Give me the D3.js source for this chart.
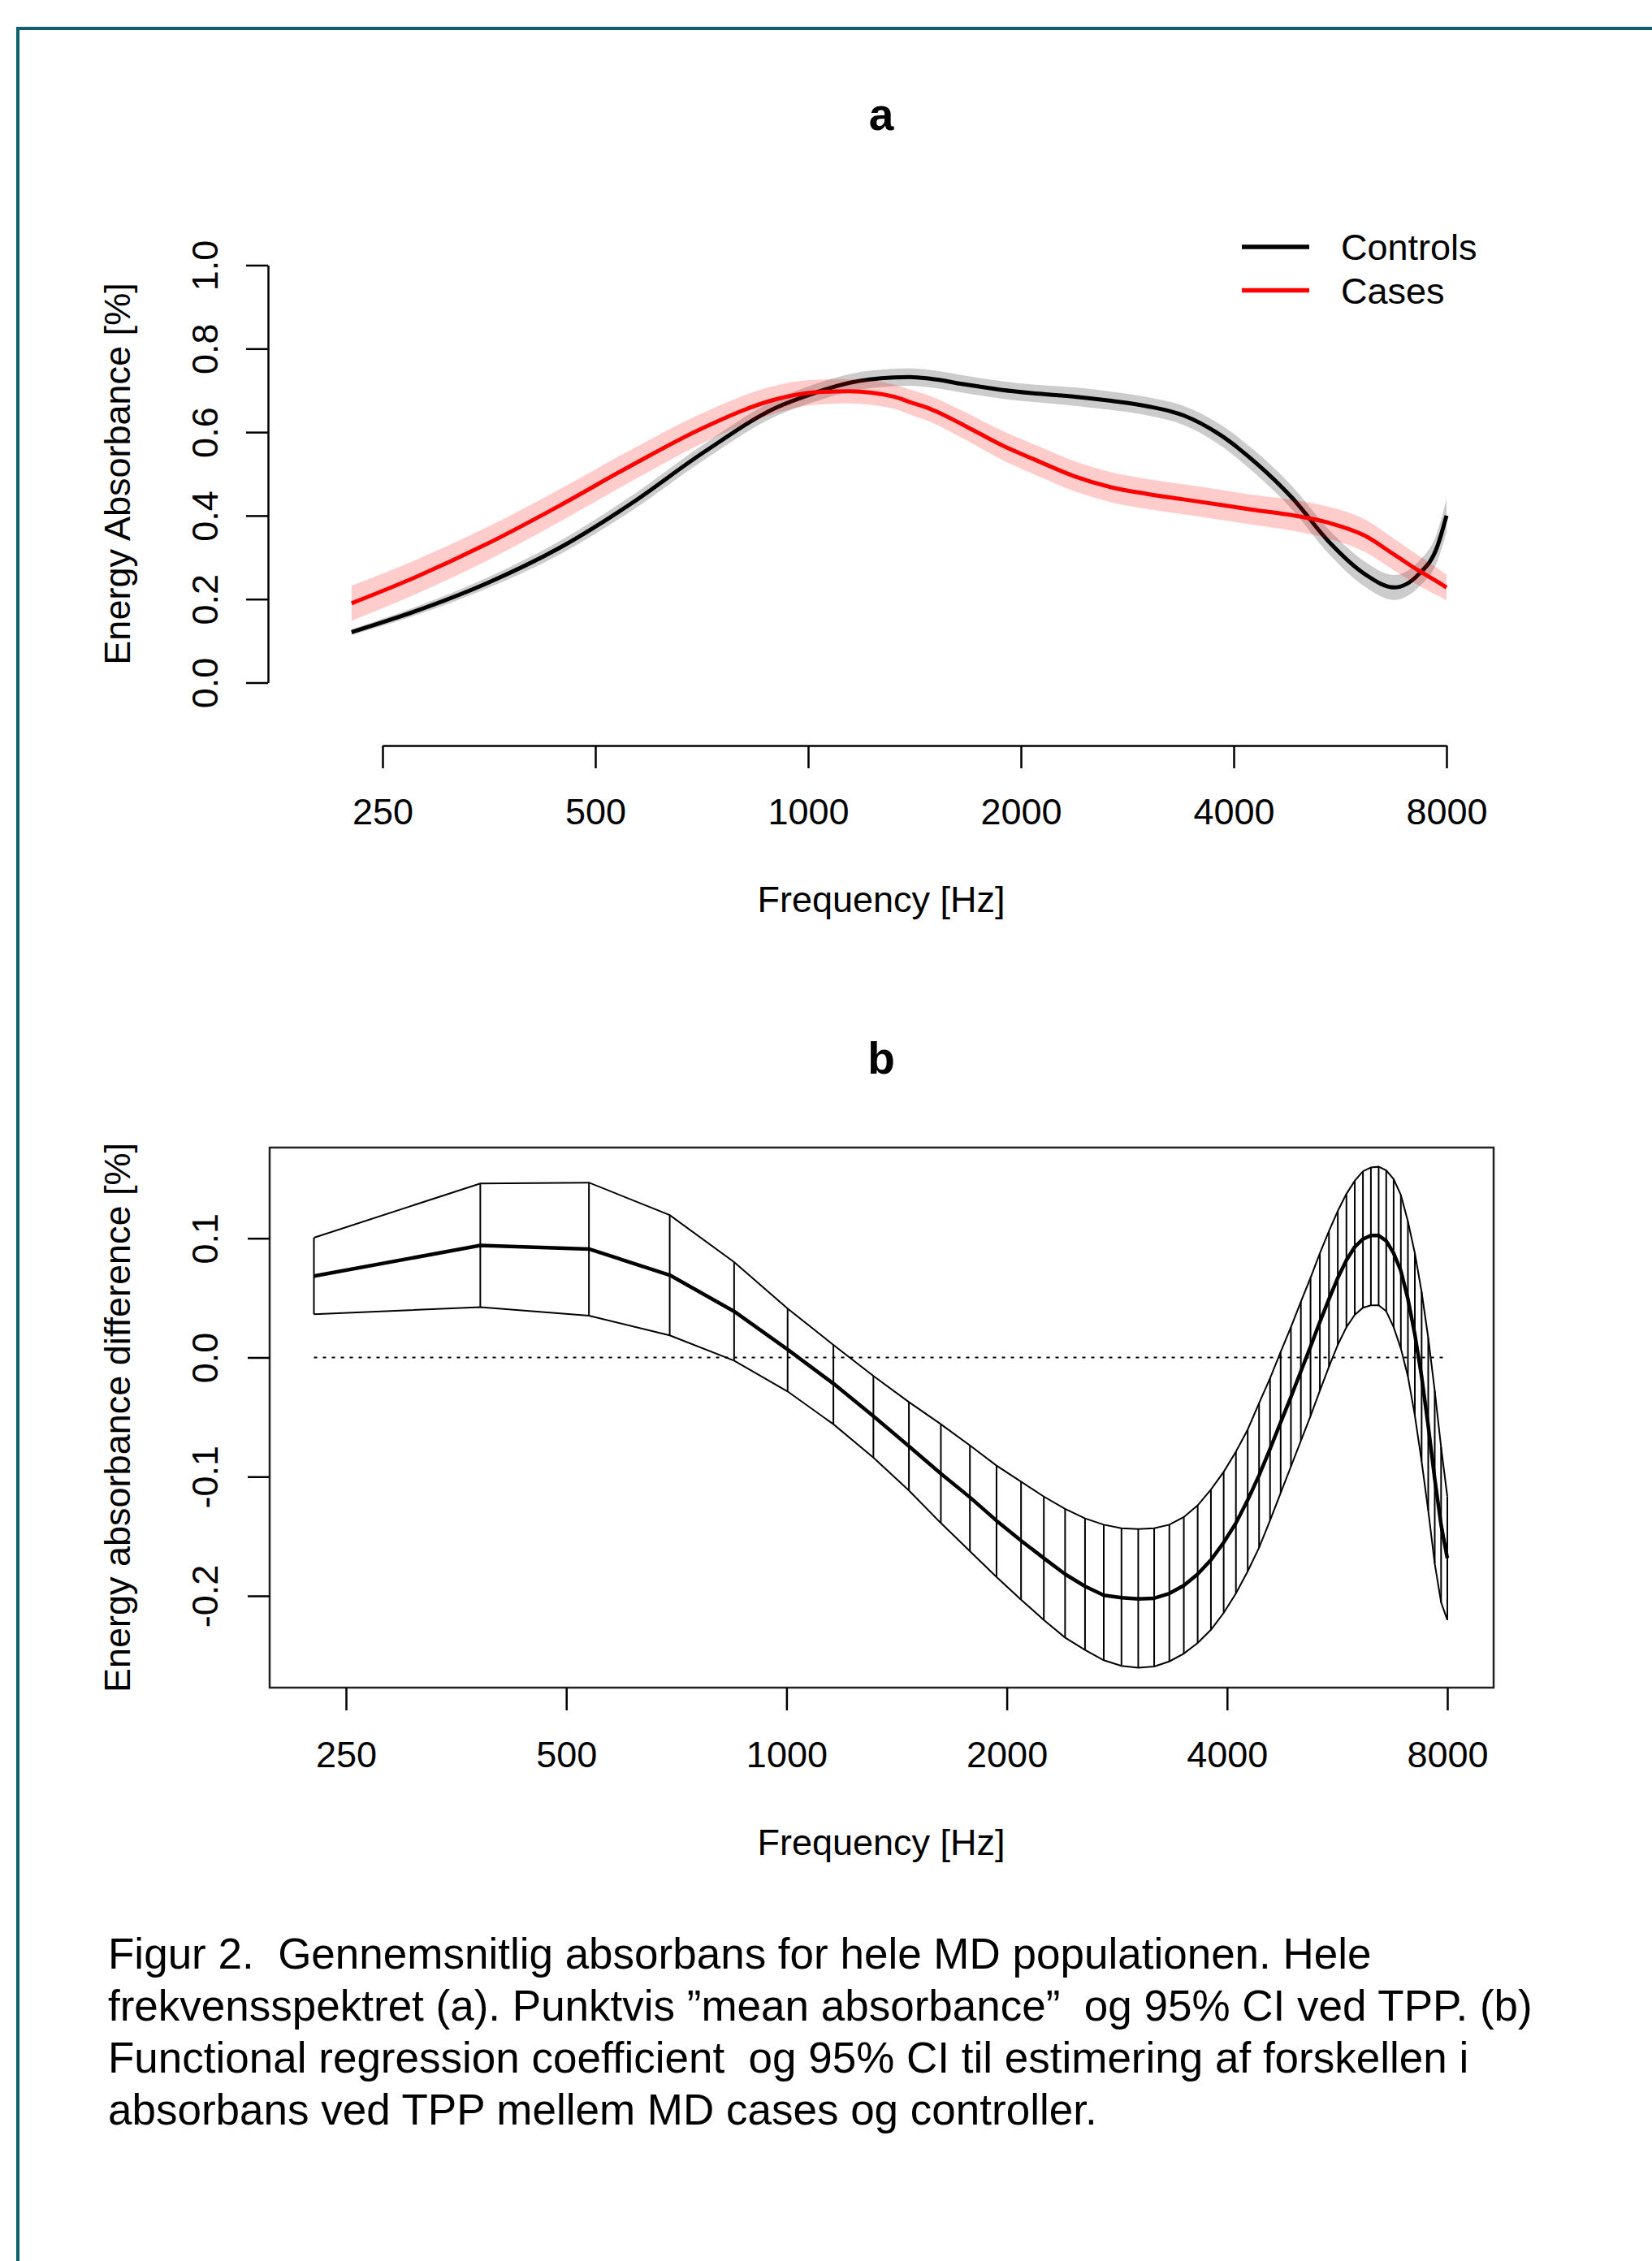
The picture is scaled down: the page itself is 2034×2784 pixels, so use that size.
<!DOCTYPE html>
<html>
<head>
<meta charset="utf-8">
<script src="https://cdn.jsdelivr.net/npm/d3@7"></script>
<style>
  body { margin: 0; background: #fff; }
  svg { display: block; }
  text { font-family: "Liberation Sans", Arial, Helvetica, sans-serif; fill: #000; }
</style>
</head>
<body>
<div id="chart"></div>
<script>
// ---------------- DATA ----------------
// Panel a: mean energy absorbance with 95% CI (half-width)
const freqA    = [226, 277, 351, 444, 562, 712, 902, 1014, 1142, 1322, 1393, 1487, 1672, 1883, 2119, 2383, 2683, 3019, 3397, 3823, 4302, 4842, 5449, 6130, 6741, 7310, 7760, 8000];
const ctrlMean = [0.121, 0.170, 0.238, 0.322, 0.429, 0.552, 0.659, 0.692, 0.718, 0.731, 0.732, 0.728, 0.714, 0.701, 0.692, 0.685, 0.675, 0.662, 0.640, 0.594, 0.526, 0.442, 0.338, 0.260, 0.228, 0.260, 0.325, 0.400];
const ctrlHalf = [0.007, 0.010, 0.013, 0.016, 0.018, 0.019, 0.020, 0.021, 0.021, 0.021, 0.021, 0.021, 0.021, 0.021, 0.021, 0.022, 0.022, 0.022, 0.023, 0.025, 0.027, 0.028, 0.029, 0.030, 0.030, 0.031, 0.035, 0.040];
const caseMean = [0.190, 0.251, 0.332, 0.423, 0.520, 0.611, 0.679, 0.695, 0.698, 0.685, 0.672, 0.656, 0.614, 0.568, 0.530, 0.494, 0.468, 0.452, 0.439, 0.426, 0.413, 0.401, 0.383, 0.352, 0.307, 0.268, 0.242, 0.228];
const caseHalf = [0.042, 0.041, 0.040, 0.039, 0.038, 0.036, 0.033, 0.030, 0.029, 0.029, 0.030, 0.031, 0.033, 0.035, 0.036, 0.036, 0.036, 0.036, 0.036, 0.036, 0.036, 0.037, 0.038, 0.039, 0.038, 0.036, 0.033, 0.031];
const seriesNames = ["Controls", "Cases"];

// Panel b: functional regression coefficient with 95% CI
const freqB = [226, 381.5, 537, 692.4, 847.9, 1003.4, 1158.9, 1314.4, 1469.8, 1625.3, 1780.8, 1936.3, 2091.8, 2247.2, 2402.7, 2558.2, 2713.7, 2869.2, 3024.6, 3180.1, 3335.6, 3491.1, 3646.6, 3802, 3957.5, 4113, 4268.5, 4424, 4579.4, 4734.9, 4890.4, 5045.9, 5201.4, 5356.8, 5512.3, 5667.8, 5823.3, 5978.8, 6134.2, 6289.7, 6445.2, 6600.7, 6756.2, 6911.6, 7067.1, 7222.6, 7378.1, 7533.6, 7689, 7844.5, 8000];
const bUpper = [0.1005, 0.146, 0.1467, 0.1195, 0.080, 0.041, 0.0106, -0.0155, -0.0374, -0.056, -0.0738, -0.0907, -0.1042, -0.1167, -0.127, -0.135, -0.1403, -0.1433, -0.144, -0.1433, -0.1403, -0.1339, -0.1241, -0.1108, -0.096, -0.0791, -0.0605, -0.0383, -0.0175, 0.0047, 0.0254, 0.0467, 0.0668, 0.0875, 0.106, 0.123, 0.1372, 0.1482, 0.1562, 0.1594, 0.160, 0.157, 0.1496, 0.1363, 0.1141, 0.0875, 0.055, 0.0165, -0.0279, -0.0753, -0.1167];
const bMean  = [0.0683, 0.094, 0.091, 0.0691, 0.0387, 0.0067, -0.0219, -0.0492, -0.0744, -0.0975, -0.1173, -0.1369, -0.1537, -0.1684, -0.1818, -0.192, -0.1995, -0.2015, -0.2025, -0.202, -0.198, -0.1913, -0.1818, -0.1699, -0.1552, -0.1389, -0.1196, -0.0989, -0.0767, -0.0545, -0.0332, -0.0116, 0.0091, 0.0298, 0.049, 0.0668, 0.0816, 0.0928, 0.0993, 0.1023, 0.1023, 0.0979, 0.0875, 0.0727, 0.049, 0.0194, -0.016, -0.0575, -0.1019, -0.1404, -0.1684];
const bLower = [0.0363, 0.0422, 0.0351, 0.0185, -0.0027, -0.0285, -0.056, -0.084, -0.1116, -0.1389, -0.1625, -0.1841, -0.2032, -0.2202, -0.235, -0.2454, -0.254, -0.2588, -0.2603, -0.2593, -0.255, -0.2484, -0.2395, -0.2285, -0.2143, -0.198, -0.1794, -0.1596, -0.1368, -0.1137, -0.0915, -0.0699, -0.0492, -0.0279, -0.0078, 0.0106, 0.0254, 0.0358, 0.0417, 0.0437, 0.0437, 0.0388, 0.0254, 0.0076, -0.016, -0.0486, -0.0871, -0.1285, -0.1729, -0.2055, -0.2202];

// Ticks
const freqTicks = [250, 500, 1000, 2000, 4000, 8000];
const yTicksA = [0, 0.2, 0.4, 0.6, 0.8, 1.0];
const yTicksB = [-0.2, -0.1, 0, 0.1];

// Texts
const titleA = "a", titleB = "b";
const xLabel = "Frequency [Hz]";
const yLabelA = "Energy Absorbance [%]";
const yLabelB = "Energy absorbance difference [%]";
const captionLines = [
  "Figur 2.  Gennemsnitlig absorbans for hele MD populationen. Hele",
  "frekvensspektret (a). Punktvis \u201dmean absorbance\u201d  og 95% CI ved TPP. (b)",
  "Functional regression coefficient  og 95% CI til estimering af forskellen i",
  "absorbans ved TPP mellem MD cases og controller."
];

// ---------------- DRAW ----------------
const W = 2034, H = 2784;
const FONT = "'Liberation Sans', Arial, Helvetica, sans-serif";
const svg = d3.select("#chart").append("svg").attr("width", W).attr("height", H);
svg.append("rect").attr("width", W).attr("height", H).attr("fill", "#fff");

// teal frame
svg.append("path").attr("d", `M22,${H} V35 H${W}`)
  .attr("fill", "none").attr("stroke", "#0f5f6f").attr("stroke-width", 4);

function styleAxis(g) {
  g.attr("font-family", FONT).attr("font-size", 45);
  g.selectAll("line").attr("stroke", "#000").attr("stroke-width", 2.5);
  g.selectAll(".domain").attr("stroke", "#000").attr("stroke-width", 2.5);
  g.selectAll("text").attr("fill", "#000");
}

// ===== Panel a =====
const xA = d3.scaleLog().base(2).domain([250, 8000]).range([471, 1781]);
const yA = d3.scaleLinear().domain([0, 1]).range([840.5, 326.5]);

const ptsCtrl = freqA.map((f, i) => ({ f, m: ctrlMean[i], h: ctrlHalf[i] }));
const ptsCase = freqA.map((f, i) => ({ f, m: caseMean[i], h: caseHalf[i] }));
const areaA = d3.area().x(d => xA(d.f)).y0(d => yA(d.m - d.h)).y1(d => yA(d.m + d.h)).curve(d3.curveMonotoneX);
const lineA = d3.line().x(d => xA(d.f)).y(d => yA(d.m)).curve(d3.curveMonotoneX);

const gA = svg.append("g");
gA.append("path").datum(ptsCtrl).attr("d", areaA).attr("fill", "#000").attr("fill-opacity", 0.2);
gA.append("path").datum(ptsCtrl).attr("d", lineA).attr("fill", "none").attr("stroke", "#000").attr("stroke-width", 5);
gA.append("path").datum(ptsCase).attr("d", areaA).attr("fill", "#ff0000").attr("fill-opacity", 0.2);
gA.append("path").datum(ptsCase).attr("d", lineA).attr("fill", "none").attr("stroke", "#ff0000").attr("stroke-width", 5);

// x axis a
const gxA = svg.append("g").attr("transform", "translate(0,918)")
  .call(d3.axisBottom(xA).tickValues(freqTicks).tickFormat(d3.format("d")).tickSize(28).tickSizeOuter(0));
styleAxis(gxA);
gxA.selectAll("text").attr("dy", null).attr("y", 97);

// y axis a
const gyA = svg.append("g").attr("transform", "translate(330,0)")
  .call(d3.axisLeft(yA).tickValues(yTicksA).tickFormat(d3.format(".1f")).tickSize(27).tickSizeOuter(0));
styleAxis(gyA);
gyA.selectAll("text").attr("x", 0).attr("dy", 0).attr("text-anchor", "middle")
  .attr("transform", "translate(-62,0) rotate(-90)");

// labels a
svg.append("text").attr("x", 1085).attr("y", 160).attr("text-anchor", "middle")
  .attr("font-size", 55).attr("font-weight", "bold").attr("font-family", FONT).text(titleA);
svg.append("text").attr("x", 1085).attr("y", 1123).attr("text-anchor", "middle")
  .attr("font-size", 45).attr("font-family", FONT).text(xLabel);
svg.append("text").attr("transform", `translate(160,${(yA(0) + yA(1)) / 2}) rotate(-90)`)
  .attr("text-anchor", "middle").attr("font-size", 45).attr("font-family", FONT).text(yLabelA);

// legend
const legColors = ["#000", "#ff0000"];
const leg = svg.append("g");
seriesNames.forEach((name, i) => {
  const ly = 304 + i * 53.5;
  leg.append("line").attr("x1", 1529).attr("x2", 1612).attr("y1", ly).attr("y2", ly)
    .attr("stroke", legColors[i]).attr("stroke-width", 5.5);
  leg.append("text").attr("x", 1651).attr("y", ly + 16).attr("font-size", 45)
    .attr("font-family", FONT).text(name);
});

// ===== Panel b =====
const xB = d3.scaleLog().base(2).domain([250, 8000]).range([426, 1782]);
const yB = d3.scaleLinear().domain([-0.2, 0.1]).range([1965, 1524.7]);
const boxL = 332, boxR = 1839, boxT = 1413, boxB = 2078;

svg.append("rect").attr("x", boxL).attr("y", boxT).attr("width", boxR - boxL).attr("height", boxB - boxT)
  .attr("fill", "none").attr("stroke", "#222").attr("stroke-width", 2.5);

const ptsB = freqB.map((f, i) => ({ f, u: bUpper[i], m: bMean[i], l: bLower[i] }));
const gB = svg.append("g");

// zero reference (dotted)
gB.append("line").attr("x1", xB(freqB[0])).attr("x2", xB(freqB[freqB.length - 1]))
  .attr("y1", yB(0)).attr("y2", yB(0))
  .attr("stroke", "#000").attr("stroke-width", 2).attr("stroke-dasharray", "4,7");

// vertical CI segments
gB.selectAll("line.ci").data(ptsB).enter().append("line").attr("class", "ci")
  .attr("x1", d => xB(d.f)).attr("x2", d => xB(d.f))
  .attr("y1", d => yB(d.l)).attr("y2", d => yB(d.u))
  .attr("stroke", "#000").attr("stroke-width", 2);

const lineU = d3.line().x(d => xB(d.f)).y(d => yB(d.u));
const lineL = d3.line().x(d => xB(d.f)).y(d => yB(d.l));
const lineM = d3.line().x(d => xB(d.f)).y(d => yB(d.m));
gB.append("path").datum(ptsB).attr("d", lineU).attr("fill", "none").attr("stroke", "#000").attr("stroke-width", 2);
gB.append("path").datum(ptsB).attr("d", lineL).attr("fill", "none").attr("stroke", "#000").attr("stroke-width", 2);
gB.append("path").datum(ptsB).attr("d", lineM).attr("fill", "none").attr("stroke", "#000").attr("stroke-width", 4.5)
  .attr("stroke-linejoin", "round");

// x axis b
const gxB = svg.append("g").attr("transform", `translate(0,${boxB})`)
  .call(d3.axisBottom(xB).tickValues(freqTicks).tickFormat(d3.format("d")).tickSize(28).tickSizeOuter(0));
styleAxis(gxB);
gxB.select(".domain").remove();
gxB.selectAll("text").attr("dy", null).attr("y", 98);

// y axis b
const gyB = svg.append("g").attr("transform", `translate(${boxL},0)`)
  .call(d3.axisLeft(yB).tickValues(yTicksB).tickFormat(d3.format(".1f")).tickSize(27).tickSizeOuter(0));
styleAxis(gyB);
gyB.select(".domain").remove();
gyB.selectAll("text").text(d => d3.format(".1f")(d).replace("\u2212", "-"))
  .attr("x", 0).attr("dy", 0).attr("text-anchor", "middle")
  .attr("transform", "translate(-64,0) rotate(-90)");

// labels b
svg.append("text").attr("x", 1085).attr("y", 1322).attr("text-anchor", "middle")
  .attr("font-size", 55).attr("font-weight", "bold").attr("font-family", FONT).text(titleB);
svg.append("text").attr("x", 1085).attr("y", 2284).attr("text-anchor", "middle")
  .attr("font-size", 45).attr("font-family", FONT).text(xLabel);
svg.append("text").attr("transform", `translate(160,${(boxT + boxB) / 2}) rotate(-90)`)
  .attr("text-anchor", "middle").attr("font-size", 45).attr("font-family", FONT).text(yLabelB);

// caption
const cap = svg.append("g");
captionLines.forEach((t, i) => {
  cap.append("text").attr("x", 133).attr("y", 2424 + i * 64)
    .attr("font-size", 53).attr("font-family", FONT)
    .style("white-space", "pre").attr("xml:space", "preserve").text(t);
});
</script>
</body>
</html>
